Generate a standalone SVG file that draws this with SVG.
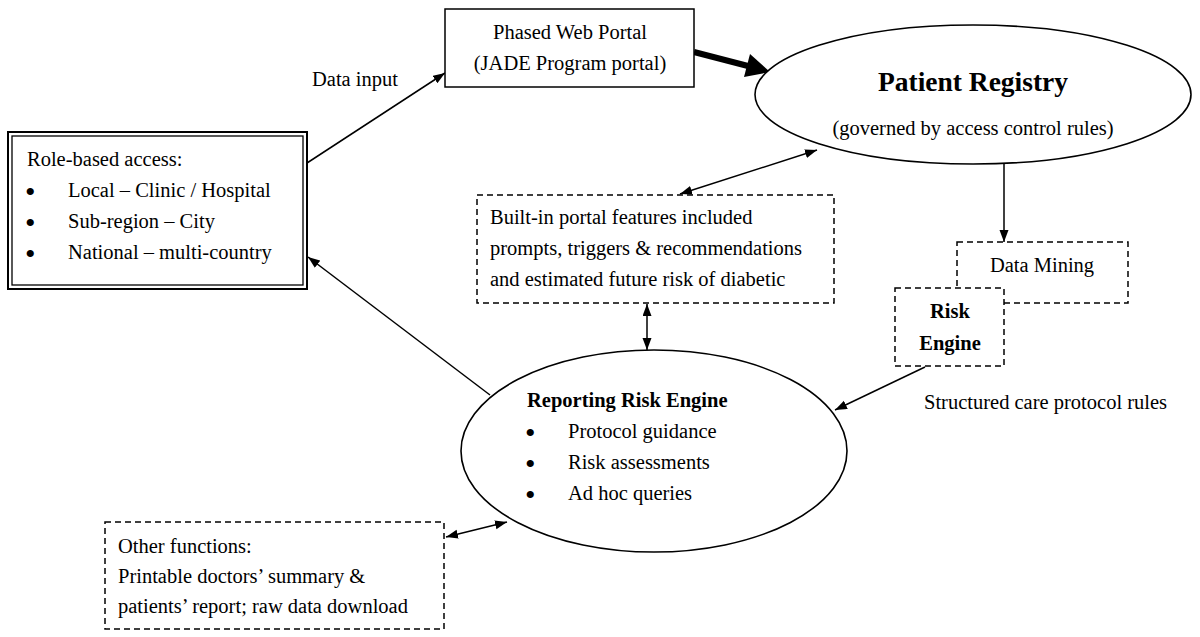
<svg xmlns="http://www.w3.org/2000/svg" width="1200" height="637" viewBox="0 0 1200 637">
<defs>
<style>
text{font-family:"Liberation Serif","Times New Roman",serif;font-size:20.5px;fill:#000}
.b{font-weight:bold}
.bul{font-size:30px}
.box{fill:#fff;stroke:#000;stroke-width:1.5}
.dash{fill:#fff;stroke:#000;stroke-width:1.5;stroke-dasharray:6 4}
.ell{fill:#fff;stroke:#000;stroke-width:1.6}
.con{fill:none;stroke:#000;stroke-width:1.5}
</style>
<marker id="ah" markerUnits="userSpaceOnUse" markerWidth="13" markerHeight="10" refX="12" refY="4.5" orient="auto-start-reverse">
<path d="M0,0 L12,4.5 L0,9 z" fill="#000"/>
</marker>
</defs>
<rect width="1200" height="637" fill="#fff"/>

<g id="connectors">
<line class="con" x1="307" y1="163" x2="445" y2="73" marker-end="url(#ah)"/>
<line x1="694" y1="52" x2="748" y2="66" stroke="#000" stroke-width="6"/>
<polygon points="770,72 744,77 750,54" fill="#000"/>
<line class="con" x1="680" y1="194" x2="817" y2="150" marker-start="url(#ah)" marker-end="url(#ah)"/>
<line class="con" x1="1004" y1="164" x2="1004" y2="242" marker-end="url(#ah)"/>
<line class="con" x1="647" y1="304" x2="647" y2="350" marker-start="url(#ah)" marker-end="url(#ah)"/>
<line class="con" x1="925" y1="367" x2="835" y2="410" marker-end="url(#ah)"/>
<line class="con" x1="490" y1="395" x2="308" y2="257" marker-end="url(#ah)"/>
<line class="con" x1="507" y1="522" x2="446" y2="537" marker-start="url(#ah)" marker-end="url(#ah)"/>
</g>

<g id="data-input-label">
<text x="312" y="86">Data input</text>
</g>

<g id="portal">
<rect class="box" x="445" y="9" width="249" height="78"/>
<text x="570" y="39" text-anchor="middle">Phased Web Portal</text>
<text x="570" y="70" text-anchor="middle">(JADE Program portal)</text>
</g>

<g id="registry">
<ellipse class="ell" cx="973" cy="94.5" rx="218" ry="69.5"/>
<text class="b" x="973" y="91" text-anchor="middle" style="font-size:27.5px">Patient Registry</text>
<text x="973" y="135" text-anchor="middle">(governed by access control rules)</text>
</g>

<g id="role-access">
<rect x="8" y="132" width="299" height="157" fill="#fff" stroke="#000" stroke-width="2"/>
<rect x="12" y="136" width="291" height="149" fill="none" stroke="#000" stroke-width="1.3"/>
<text x="27" y="166">Role-based access:</text>
<text class="bul" x="25" y="202">•</text><text x="68" y="197">Local – Clinic / Hospital</text>
<text class="bul" x="25" y="233">•</text><text x="68" y="228">Sub-region – City</text>
<text class="bul" x="25" y="264">•</text><text x="68" y="259">National – multi-country</text>
</g>

<g id="builtin">
<rect class="dash" x="477" y="195" width="357" height="108"/>
<text x="490" y="224">Built-in portal features included</text>
<text x="490" y="255">prompts, triggers &amp; recommendations</text>
<text x="490" y="286">and estimated future risk of diabetic</text>
</g>

<g id="data-mining">
<rect class="dash" x="957" y="242" width="171" height="61"/>
<text x="1042" y="272" text-anchor="middle">Data Mining</text>
</g>

<g id="risk-engine">
<rect class="dash" x="895" y="288" width="109" height="78"/>
<text class="b" x="950" y="318" text-anchor="middle">Risk</text>
<text class="b" x="950" y="350" text-anchor="middle">Engine</text>
</g>

<g id="protocol-label">
<text x="924" y="409">Structured care protocol rules</text>
</g>

<g id="reporting">
<ellipse class="ell" cx="654" cy="451" rx="193" ry="101"/>
<text class="b" x="527" y="407">Reporting Risk Engine</text>
<text class="bul" x="525" y="443">•</text><text x="568" y="438">Protocol guidance</text>
<text class="bul" x="525" y="474">•</text><text x="568" y="469">Risk assessments</text>
<text class="bul" x="525" y="505">•</text><text x="568" y="500">Ad hoc queries</text>
</g>

<g id="other-functions">
<rect class="dash" x="105" y="522" width="339" height="107"/>
<text x="118" y="553">Other functions:</text>
<text x="118" y="583">Printable doctors’ summary &amp;</text>
<text x="118" y="613">patients’ report; raw data download</text>
</g>
</svg>
